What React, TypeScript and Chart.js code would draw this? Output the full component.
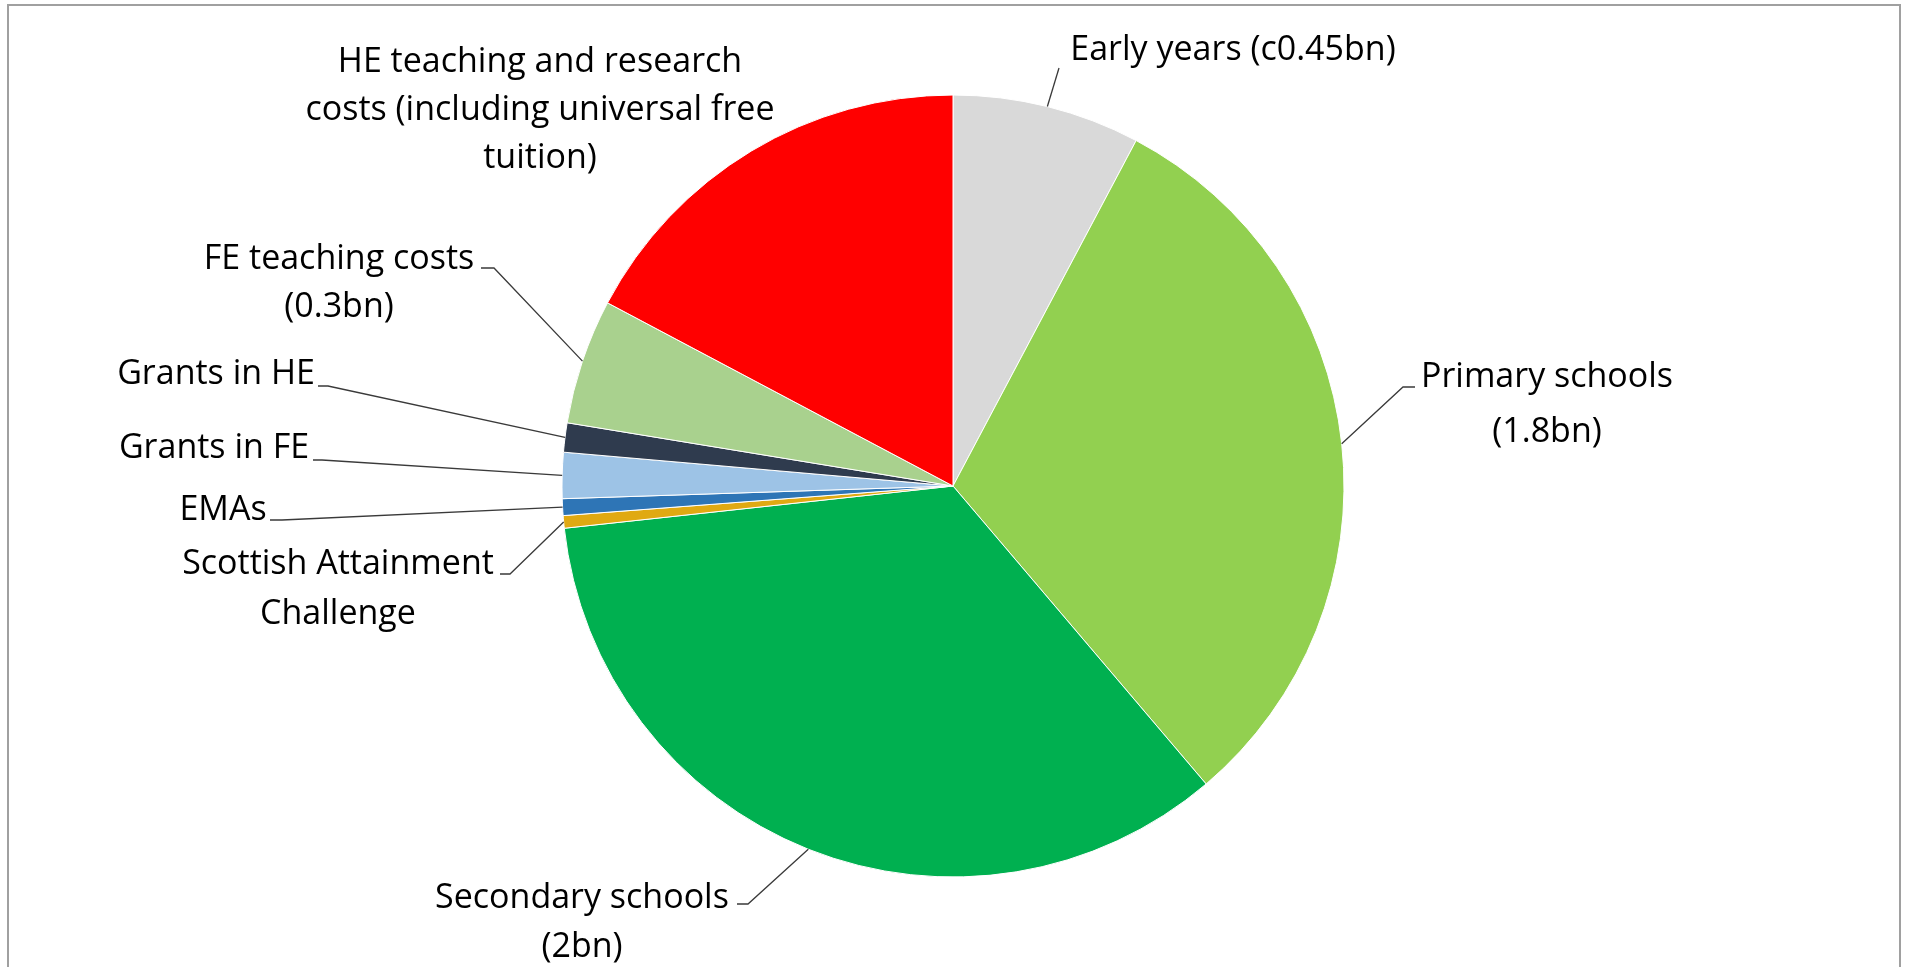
import React, { useEffect, useRef } from "react";
import { Chart, registerables } from "chart.js";

Chart.register(...registerables);

// ---- data ----
const categories = [
  "Early years",
  "Primary schools",
  "Secondary schools",
  "Scottish Attainment Challenge",
  "EMAs",
  "Grants in FE",
  "Grants in HE",
  "FE teaching costs",
  "HE teaching and research costs (including universal free tuition)",
];
const spendingBn = [0.45, 1.8, 2.0, 0.03, 0.04, 0.11, 0.07, 0.3, 1.0];
const labelLines = [
  ["Early years (c0.45bn)"],
  ["Primary schools", "(1.8bn)"],
  ["Secondary schools", "(2bn)"],
  ["Scottish Attainment", "Challenge"],
  ["EMAs"],
  ["Grants in FE"],
  ["Grants in HE"],
  ["FE teaching costs", "(0.3bn)"],
  ["HE teaching and research", "costs (including universal free", "tuition)"],
];
const sliceColors = [
  "#D9D9D9",
  "#92D050",
  "#00B050",
  "#E0A912",
  "#2E75B6",
  "#9DC3E6",
  "#2F3B4E",
  "#A9D18E",
  "#FF0000",
];

// ---- label layout (offsets from pie centre, px) ----
type LabelLayout = { tx: number; ty: number; lh: number; leader: number[][] };
const labelLayout: LabelLayout[] = [
  { tx: 280, ty: -426, lh: 48, leader: [[106, -418]] },
  { tx: 594, ty: -99, lh: 55, leader: [[450, -99], [462, -99]] },
  { tx: -371, ty: 422, lh: 49, leader: [[-205, 418], [-216, 418]] },
  { tx: -615, ty: 88, lh: 50, leader: [[-443, 88], [-453, 88]] },
  { tx: -730, ty: 34, lh: 48, leader: [[-671, 34], [-683, 34]] },
  { tx: -739, ty: -28, lh: 48, leader: [[-631, -26], [-640, -26]] },
  { tx: -737, ty: -102, lh: 48, leader: [[-625, -100], [-635, -100]] },
  { tx: -614, ty: -217, lh: 48, leader: [[-459, -218], [-472, -218]] },
  { tx: -413, ty: -414, lh: 48, leader: [] },
];
const FONT = "34px 'Open Sans'";

const labelPlugin = {
  id: "excelLabels",
  afterDatasetsDraw(chart: any) {
    const ctx = chart.ctx;
    const meta = chart.getDatasetMeta(0);
    ctx.save();
    meta.data.forEach((arc: any, i: number) => {
      const { x, y, startAngle, endAngle, outerRadius } = arc.getProps(
        ["x", "y", "startAngle", "endAngle", "outerRadius"],
        true
      );
      const lay = labelLayout[i];
      const mid = (startAngle + endAngle) / 2;
      if (lay.leader.length) {
        ctx.beginPath();
        ctx.strokeStyle = "#3a3a3a";
        ctx.lineWidth = 1.3;
        ctx.moveTo(x + Math.cos(mid) * outerRadius, y + Math.sin(mid) * outerRadius);
        lay.leader.forEach((p) => ctx.lineTo(x + p[0], y + p[1]));
        ctx.stroke();
      }
      ctx.fillStyle = "#000";
      ctx.font = FONT;
      ctx.textAlign = "center";
      ctx.textBaseline = "alphabetic";
      labelLines[i].forEach((line, k) => {
        ctx.fillText(line, x + lay.tx, y + lay.ty + k * lay.lh);
      });
    });
    ctx.restore();
  },
};

export default function App() {
  const ref = useRef<HTMLCanvasElement | null>(null);
  useEffect(() => {
    if (!ref.current) return;
    const chart = new Chart(ref.current, {
      type: "pie",
      data: {
        labels: categories,
        datasets: [
          {
            data: spendingBn,
            backgroundColor: sliceColors,
            borderColor: "#ffffff",
            borderWidth: 1,
          },
        ],
      },
      options: {
        responsive: false,
        animation: false,
        devicePixelRatio: 1,
        radius: 391,
        layout: { padding: { top: 5, bottom: 0, left: 0, right: 0 } },
        plugins: {
          legend: { display: false },
          tooltip: { enabled: false },
        },
      },
      plugins: [labelPlugin],
    });
    return () => chart.destroy();
  }, []);
  return (
    <div>
      <div
        style={{
          position: "fixed",
          left: 7,
          top: 4,
          width: 1890,
          height: 1100,
          border: "2px solid #a0a0a0",
          background: "#fff",
        }}
      />
      <canvas
        ref={ref}
        width={1906}
        height={967}
        style={{ position: "fixed", left: 0, top: 0, width: 1906, height: 967 }}
      />
    </div>
  );
}
